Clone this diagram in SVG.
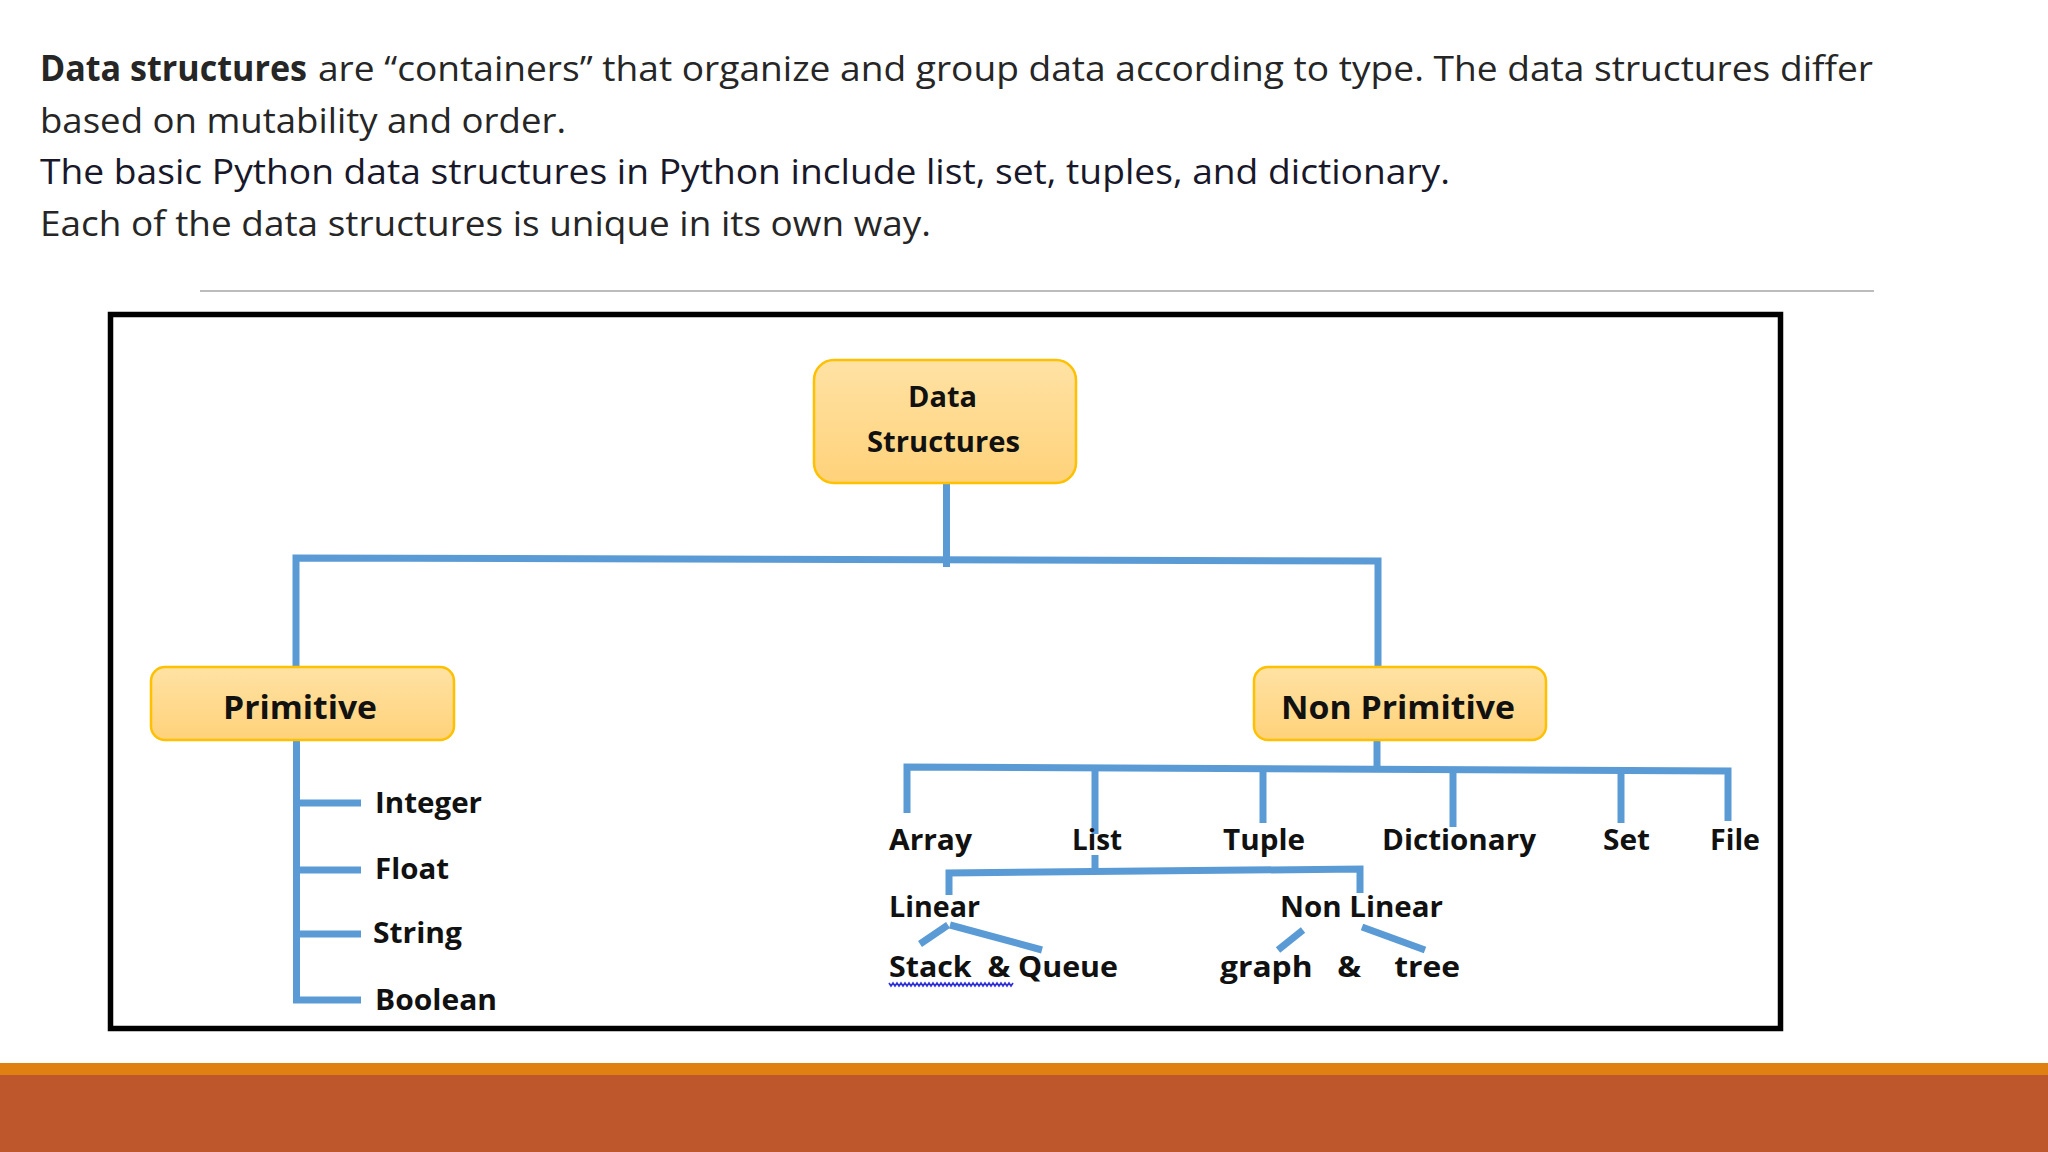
<svg xmlns="http://www.w3.org/2000/svg" width="2048" height="1152" viewBox="0 0 2048 1152">
  <style>
    .hdr { font-family: "Open Sans", "Liberation Sans", sans-serif; font-size: 35px; fill: #262626; }
    .lbl { font-family: "Open Sans", "Liberation Sans", sans-serif; font-weight: 700; font-size: 29px; fill: #111111; }
    .big { font-size: 32px; }
    .mid { font-size: 28px; }
    .box { fill: url(#gold); stroke: #FFC000; stroke-width: 2.5; }
    .conn { stroke: #5B9BD5; stroke-width: 7; fill: none; stroke-linejoin: miter; stroke-linecap: butt; }
  </style>
  <defs>
    <linearGradient id="gold" x1="0" y1="0" x2="0" y2="1">
      <stop offset="0" stop-color="#FFE2A4"/>
      <stop offset="1" stop-color="#FFD27A"/>
    </linearGradient>
  </defs>

  <rect x="0" y="0" width="2048" height="1152" fill="#FFFFFF"/>

  <!-- header text -->
  <g id="header">
    <text class="hdr" x="40" y="81" font-weight="700" textLength="267" lengthAdjust="spacingAndGlyphs">Data structures</text>
    <text class="hdr" x="318" y="81" textLength="1555" lengthAdjust="spacingAndGlyphs">are “containers” that organize and group data according to type. The data structures differ</text>
    <text class="hdr" x="40" y="133" textLength="526" lengthAdjust="spacingAndGlyphs">based on mutability and order.</text>
    <text class="hdr" x="40" y="184" textLength="1410" lengthAdjust="spacingAndGlyphs" style="fill:#18182a">The basic Python data structures in Python include list, set, tuples, and dictionary.</text>
    <text class="hdr" x="40" y="236" textLength="891" lengthAdjust="spacingAndGlyphs">Each of the data structures is unique in its own way.</text>
  </g>

  <line x1="200" y1="291" x2="1874" y2="291" stroke="#A6A6A6" stroke-width="1.5"/>

  <!-- frame -->
  <rect x="110.5" y="314.5" width="1670" height="714" fill="none" stroke="#000000" stroke-width="5.5"/>

  <!-- connectors -->
  <g id="connectors">
    <path class="conn" d="M946.5,483 V567"/>
    <path class="conn" d="M296,667 V558 L1378,561 V667"/>
    <path class="conn" d="M296.5,741 V1000 H361"/>
    <path class="conn" d="M300,803 H361"/>
    <path class="conn" d="M300,870 H361"/>
    <path class="conn" d="M297,934 H361"/>
    <path class="conn" d="M1377,741 V769"/>
    <path class="conn" d="M907,813 V767 L1728,771 V821"/>
    <path class="conn" d="M1095,768 V834"/>
    <path class="conn" d="M1263,768 V823"/>
    <path class="conn" d="M1453,769 V827"/>
    <path class="conn" d="M1621,770 V823"/>
    <path class="conn" d="M1095,855 V871"/>
    <path class="conn" d="M949,895 V873 L1360,869 V893"/>
    <path class="conn" d="M948,925 L920,944"/>
    <path class="conn" d="M950,925 L1042,950"/>
    <path class="conn" d="M1303,930 L1278,950"/>
    <path class="conn" d="M1362,927 L1425,950"/>
  </g>

  <!-- nodes -->
  <g id="node-data-structures">
    <rect class="box" x="814" y="360" width="262" height="123" rx="20"/>
    <text class="lbl mid" x="908" y="407" textLength="69" lengthAdjust="spacingAndGlyphs">Data</text>
    <text class="lbl mid" x="867" y="452" textLength="153" lengthAdjust="spacingAndGlyphs">Structures</text>
  </g>
  <g id="node-primitive">
    <rect class="box" x="151" y="667" width="303" height="73" rx="14"/>
    <text class="lbl big" x="223" y="719" textLength="154" lengthAdjust="spacingAndGlyphs">Primitive</text>
  </g>
  <g id="node-non-primitive">
    <rect class="box" x="1254" y="667" width="292" height="73" rx="14"/>
    <text class="lbl big" x="1281" y="719" textLength="234" lengthAdjust="spacingAndGlyphs">Non Primitive</text>
  </g>
  <g id="node-integer"><text class="lbl" x="375" y="813" textLength="107" lengthAdjust="spacingAndGlyphs">Integer</text></g>
  <g id="node-float"><text class="lbl" x="375" y="879" textLength="74" lengthAdjust="spacingAndGlyphs">Float</text></g>
  <g id="node-string"><text class="lbl" x="373" y="943" textLength="89" lengthAdjust="spacingAndGlyphs">String</text></g>
  <g id="node-boolean"><text class="lbl" x="375" y="1010" textLength="122" lengthAdjust="spacingAndGlyphs">Boolean</text></g>
  <g id="node-array"><text class="lbl" x="889" y="850" textLength="83" lengthAdjust="spacingAndGlyphs">Array</text></g>
  <g id="node-list"><text class="lbl" x="1072" y="850" textLength="50" lengthAdjust="spacingAndGlyphs">List</text></g>
  <g id="node-tuple"><text class="lbl" x="1223" y="850" textLength="82" lengthAdjust="spacingAndGlyphs">Tuple</text></g>
  <g id="node-dictionary"><text class="lbl" x="1382" y="850" textLength="154" lengthAdjust="spacingAndGlyphs">Dictionary</text></g>
  <g id="node-set"><text class="lbl" x="1603" y="850" textLength="47" lengthAdjust="spacingAndGlyphs">Set</text></g>
  <g id="node-file"><text class="lbl" x="1710" y="850" textLength="50" lengthAdjust="spacingAndGlyphs">File</text></g>
  <g id="node-linear"><text class="lbl" x="889" y="917" textLength="91" lengthAdjust="spacingAndGlyphs">Linear</text></g>
  <g id="node-non-linear"><text class="lbl" x="1280" y="917" textLength="163" lengthAdjust="spacingAndGlyphs">Non Linear</text></g>
  <g id="node-stack-queue">
    <text class="lbl" x="889" y="977" textLength="229" lengthAdjust="spacingAndGlyphs" style="white-space:pre">Stack  &amp; Queue</text>
    <path d="M889,983 l2,3 l2,-3 l2,3 l2,-3 l2,3 l2,-3 l2,3 l2,-3 l2,3 l2,-3 l2,3 l2,-3 l2,3 l2,-3 l2,3 l2,-3 l2,3 l2,-3 l2,3 l2,-3 l2,3 l2,-3 l2,3 l2,-3 l2,3 l2,-3 l2,3 l2,-3 l2,3 l2,-3 l2,3 l2,-3 l2,3 l2,-3 l2,3 l2,-3 l2,3 l2,-3 l2,3 l2,-3 l2,3 l2,-3 l2,3 l2,-3 l2,3 l2,-3 l2,3 l2,-3 l2,3 l2,-3 l2,3 l2,-3 l2,3 l2,-3 l2,3 l2,-3 l2,3 l2,-3 l2,3 l2,-3 l2,3 l2,-3" fill="none" stroke="#3030D8" stroke-width="1.6"/>
  </g>
  <g id="node-graph-tree">
    <text class="lbl" x="1220" y="977" textLength="240" lengthAdjust="spacingAndGlyphs" style="white-space:pre">graph   &amp;    tree</text>
  </g>

  <!-- bottom band -->
  <rect x="0" y="1063" width="2048" height="12" fill="#DF8012"/>
  <rect x="0" y="1075" width="2048" height="77" fill="#BE582C"/>
</svg>
